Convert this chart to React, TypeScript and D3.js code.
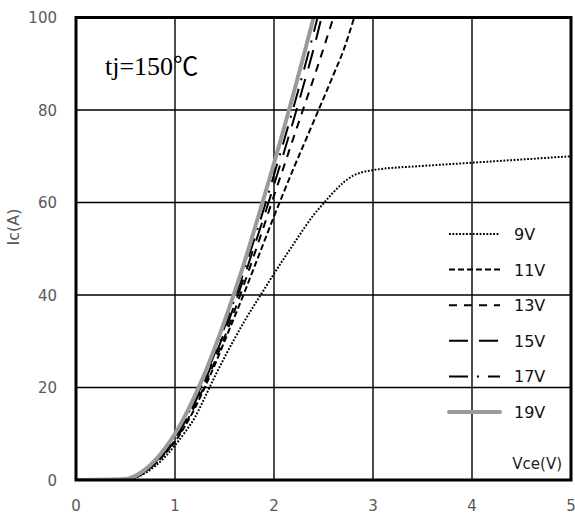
import React from "react";
import * as d3 from "d3";

// Output characteristics Ic vs Vce at tj = 150 °C, one series per gate voltage
const vce9 = [0, 0.5, 0.6, 0.7, 0.8, 0.9, 1.0, 1.1, 1.2, 1.3, 1.4, 1.5, 1.6, 1.7, 1.8, 1.9, 2.0, 2.1, 2.2, 2.3, 2.4, 2.5, 2.6, 2.7, 2.8, 2.9, 3.0, 3.5, 4.0, 4.5, 5.0];
const ic9 = [0, 0.1, 0.5, 1.5, 3, 5, 7.5, 10.3, 13.5, 17.8, 22.3, 26.5, 30.5, 34.3, 37.8, 41.2, 44.6, 47.9, 51.1, 54.3, 57.3, 59.8, 62.2, 64.3, 65.8, 66.6, 67, 67.9, 68.6, 69.3, 70];

const vce11 = [0, 0.5, 0.6, 0.7, 0.8, 0.9, 1.0, 1.1, 1.2, 1.3, 1.4, 1.5, 1.6, 1.7, 1.8, 1.9, 2.0, 2.1, 2.2, 2.3, 2.4, 2.5, 2.6, 2.7, 2.81];
const ic11 = [0, 0.1, 0.6, 1.8, 3.5, 5.7, 8.3, 11.6, 15.5, 20, 24.8, 30, 35.2, 40.5, 46, 51.5, 57, 62.3, 67.5, 72.5, 77.5, 82.5, 87.6, 92.8, 100];

const vce13 = [0, 0.5, 0.6, 0.7, 0.8, 0.9, 1.0, 1.1, 1.2, 1.3, 1.4, 1.5, 1.6, 1.7, 1.8, 1.9, 2.0, 2.1, 2.2, 2.3, 2.4, 2.5, 2.6];
const ic13 = [0, 0.1, 0.6, 1.8, 3.5, 5.8, 8.6, 12, 16, 20.5, 25.5, 30.8, 36.5, 42.5, 48.7, 55, 61.5, 67.8, 74.2, 80.5, 86.8, 93.3, 100];

const vce15 = [0, 0.5, 0.6, 0.7, 0.8, 0.9, 1.0, 1.1, 1.2, 1.3, 1.4, 1.5, 1.6, 1.7, 1.8, 1.9, 2.0, 2.1, 2.2, 2.3, 2.4, 2.48];
const ic15 = [0, 0.1, 0.6, 1.9, 3.7, 6.1, 9, 12.5, 16.7, 21.3, 26.5, 32, 37.8, 44, 50.5, 57, 63.8, 70.8, 78, 85.5, 93.2, 100];

const vce17 = [0, 0.5, 0.6, 0.7, 0.8, 0.9, 1.0, 1.1, 1.2, 1.3, 1.4, 1.5, 1.6, 1.7, 1.8, 1.9, 2.0, 2.1, 2.2, 2.3, 2.44];
const ic17 = [0, 0.1, 0.7, 2, 3.9, 6.4, 9.4, 13, 17.3, 22, 27.3, 33, 39, 45.3, 52, 58.8, 66, 73.3, 80.8, 88.5, 100];

const vce19 = [0, 0.5, 0.6, 0.7, 0.8, 0.9, 1.0, 1.1, 1.2, 1.3, 1.4, 1.5, 1.6, 1.7, 1.8, 1.9, 2.0, 2.1, 2.2, 2.3, 2.4];
const ic19 = [0, 0.2, 0.9, 2.3, 4.3, 6.9, 10, 13.8, 18.2, 23, 28.5, 34.3, 40.5, 47, 54, 61.2, 68.5, 76, 83.8, 91.8, 100];

const seriesNames = ["9V", "11V", "13V", "15V", "17V", "19V"];
const xTicks = [0, 1, 2, 3, 4, 5];
const yTicks = [0, 20, 40, 60, 80, 100];

const W = 575;
const H = 516;
const left = 76;
const right = 571;
const top = 17.5;
const bottom = 480;

const styles = [
  { stroke: "#000", width: 2, dash: "1.8,1.6" },
  { stroke: "#000", width: 2, dash: "6,3" },
  { stroke: "#000", width: 2, dash: "8,7" },
  { stroke: "#000", width: 2, dash: "19,11" },
  { stroke: "#000", width: 2, dash: "19,9,2,9" },
  { stroke: "#9a9a9a", width: 4, dash: null as string | null },
];

export default function App() {
  const x = d3.scaleLinear().domain([0, 5]).range([left, right]);
  const y = d3.scaleLinear().domain([0, 100]).range([bottom, top]);

  const series = [
    [vce9, ic9],
    [vce11, ic11],
    [vce13, ic13],
    [vce15, ic15],
    [vce17, ic17],
    [vce19, ic19],
  ].map(([vs, is], k) => ({
    name: seriesNames[k],
    pts: vs.map((v, i) => [v, is[i]] as [number, number]),
    style: styles[k],
  }));

  const line = d3
    .line<[number, number]>()
    .x((d) => x(d[0]))
    .y((d) => y(d[1]))
    .curve(d3.curveMonotoneX);

  const tickFont = "'DejaVu Sans', Verdana, sans-serif";
  const legendX0 = 449;
  const legendX1 = 500;
  const legendY0 = 234;
  const legendStep = 35.6;

  return (
    <svg
      width={W}
      height={H}
      style={{ position: "absolute", left: 0, top: 0, background: "#fff" }}
    >
      <defs>
        <clipPath id="plot">
          <rect x={left} y={top} width={right - left} height={bottom - top} />
        </clipPath>
      </defs>
      <rect x={0} y={0} width={W} height={H} fill="#fff" />

      {/* grid */}
      {xTicks.slice(1, -1).map((t) => (
        <line key={"gx" + t} x1={x(t)} x2={x(t)} y1={top} y2={bottom} stroke="#000" strokeWidth={1.4} />
      ))}
      {yTicks.slice(1, -1).map((t) => (
        <line key={"gy" + t} x1={left} x2={right} y1={y(t)} y2={y(t)} stroke="#000" strokeWidth={1.4} />
      ))}

      {/* curves */}
      <g clipPath="url(#plot)">
        {series.map((s) => (
          <path
            key={s.name}
            d={line(s.pts) || ""}
            fill="none"
            stroke={s.style.stroke}
            strokeWidth={s.style.width}
            strokeDasharray={s.style.dash || undefined}
          />
        ))}
      </g>

      {/* frame */}
      <rect x={left} y={top} width={right - left} height={bottom - top} fill="none" stroke="#000" strokeWidth={3} />

      {/* tick labels */}
      {xTicks.map((t) => (
        <text key={"tx" + t} x={x(t)} y={511} textAnchor="middle" fontFamily={tickFont} fontSize={15} fill="#595959">
          {t}
        </text>
      ))}
      {yTicks.map((t) => (
        <text key={"ty" + t} x={57} y={y(t) + 5.5} textAnchor="end" fontFamily={tickFont} fontSize={15} fill="#595959">
          {t}
        </text>
      ))}

      <text
        transform={`translate(19, 227) rotate(-90)`}
        textAnchor="middle"
        fontFamily={tickFont}
        fontSize={16}
        fill="#595959"
      >
        Ic(A)
      </text>
      <text x={562} y={469} textAnchor="end" fontFamily={tickFont} fontSize={15} fill="#222">
        Vce(V)
      </text>

      <text x={105} y={75} fontFamily="'Liberation Serif', 'Times New Roman', serif" fontSize={26} fill="#000">
        tj=150
        <tspan fontFamily="'Noto Sans CJK JP', 'Noto Sans CJK SC', serif" fontSize={25}>℃</tspan>
      </text>

      {/* legend */}
      {series.map((s, k) => {
        const ly = legendY0 + k * legendStep;
        return (
          <g key={"lg" + s.name}>
            <line
              x1={legendX0}
              x2={legendX1}
              y1={ly}
              y2={ly}
              stroke={s.style.stroke}
              strokeWidth={s.style.width}
              strokeDasharray={s.style.dash || undefined}
              strokeLinecap={s.style.dash ? "butt" : "round"}
            />
            <text x={514} y={ly + 6} fontFamily={tickFont} fontSize={16} fill="#111">
              {s.name}
            </text>
          </g>
        );
      })}
    </svg>
  );
}
